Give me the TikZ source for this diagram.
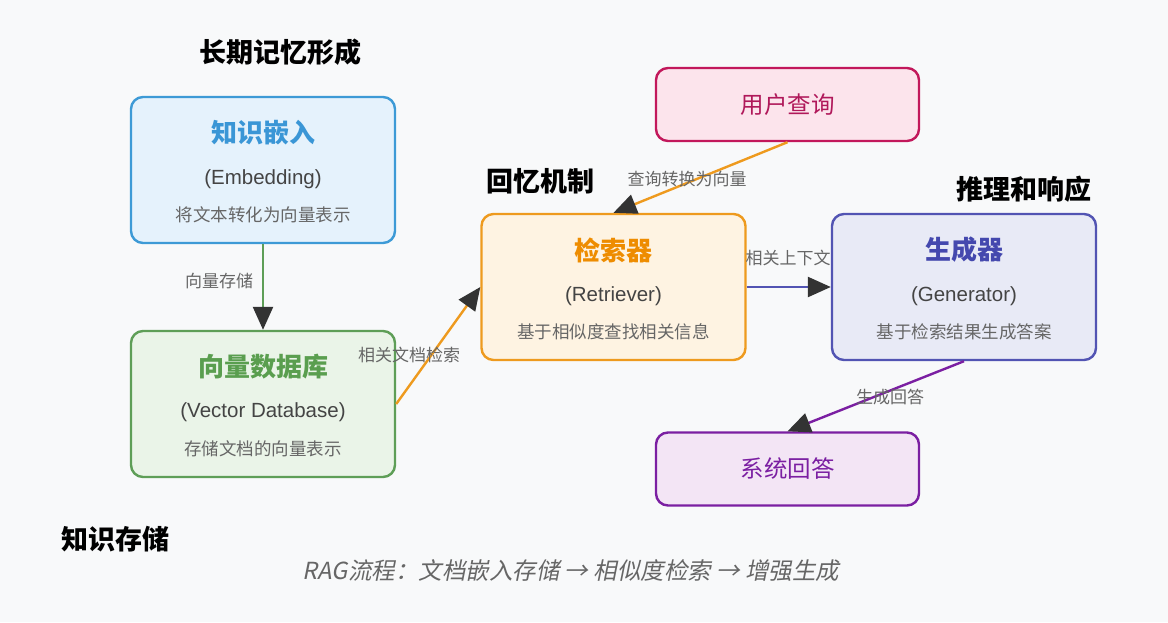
\documentclass[tikz,border=0pt]{standalone}
\usepackage{fontspec}
\setmainfont{Noto Sans CJK SC}[AutoFakeSlant=0.2]
\newfontfamily\latinsans{Liberation Sans}
\usetikzlibrary{arrows.meta}
\definecolor{bgc}{HTML}{F8F9FA}
\definecolor{tipc}{HTML}{333333}
\definecolor{blueS}{HTML}{3D9AD6}\definecolor{blueF}{HTML}{E5F2FC}\definecolor{blueT}{HTML}{3A96D6}
\definecolor{greenS}{HTML}{5E9E57}\definecolor{greenF}{HTML}{EAF4E8}\definecolor{greenT}{HTML}{5A9E4F}
\definecolor{orangeS}{HTML}{EE9A1E}\definecolor{orangeF}{HTML}{FEF3E2}\definecolor{orangeT}{HTML}{EE8C00}
\definecolor{indS}{HTML}{5254B3}\definecolor{indF}{HTML}{E8EAF6}\definecolor{indT}{HTML}{4448AE}
\definecolor{pinkS}{HTML}{C2185B}\definecolor{pinkF}{HTML}{FCE4EC}\definecolor{pinkT}{HTML}{B0185A}
\definecolor{purS}{HTML}{7B1FA2}\definecolor{purF}{HTML}{F3E5F5}\definecolor{purT}{HTML}{7B1FA2}
\definecolor{subc}{HTML}{444444}
\definecolor{descc}{HTML}{666666}
\definecolor{lblc}{HTML}{666666}
\tikzset{
  box/.style={draw, rounded corners=12pt, line width=2.4pt, minimum width=264pt, minimum height=146pt, inner sep=0pt},
  smallbox/.style={draw, rounded corners=12pt, line width=2.4pt, minimum width=263pt, minimum height=73pt, inner sep=0pt},
  ttl/.style={font=\fontsize{26}{30}\selectfont\bfseries},
  sub/.style={font=\latinsans\fontsize{20.5}{24}\selectfont, text=subc},
  desc/.style={font=\fontsize{17.5}{21}\selectfont, text=descc},
  sect/.style={font=\fontsize{27}{31}\selectfont\bfseries, text=black},
  lbl/.style={font=\fontsize{17}{20}\selectfont, text=lblc},
  conn/.style={line width=2.4pt, -{Triangle[length=23pt,width=20pt,color=tipc]}},
}
\begin{document}
\begin{tikzpicture}[x=1pt,y=-1pt]
\fill[bgc] (0,0) rectangle (1168,622);
\useasboundingbox (0,0) rectangle (1168,622);

% boxes
\node[box, draw=blueS, fill=blueF] (emb) at (263,170) {};
\node[ttl, text=blueT] (embT) at (263,133) {知识嵌入};
\node[sub] (embS) at (263,179) {(Embedding)};
\node[desc] (embD) at (263,215) {将文本转化为向量表示};

\node[box, draw=greenS, fill=greenF] (vdb) at (263,404) {};
\node[ttl, text=greenT] (vdbT) at (263,367) {向量数据库};
\node[sub] (vdbS) at (263,412) {(Vector Database)};
\node[desc] (vdbD) at (263,449) {存储文档的向量表示};

\node[box, draw=orangeS, fill=orangeF] (ret) at (613.5,287) {};
\node[ttl, text=orangeT] (retT) at (613.5,250) {检索器};
\node[sub] (retS) at (613.5,296) {(Retriever)};
\node[desc] (retD) at (613.5,332) {基于相似度查找相关信息};

\node[box, draw=indS, fill=indF] (gen) at (964,287) {};
\node[ttl, text=indT] (genT) at (964,250) {生成器};
\node[sub] (genS) at (964,296) {(Generator)};
\node[desc] (genD) at (964,332) {基于检索结果生成答案};

\node[smallbox, draw=pinkS, fill=pinkF, text=pinkT, font=\fontsize{23.5}{27}\selectfont] (usr) at (787.5,104.5) {用户查询};
\node[smallbox, draw=purS, fill=purF, text=purT, font=\fontsize{23.5}{27}\selectfont] (ans) at (787.5,469) {系统回答};

% section headings
\node[sect] (h1) at (280,52) {长期记忆形成};
\node[sect] (h2) at (540,181) {回忆机制};
\node[sect] (h3) at (1024,189) {推理和响应};
\node[sect] (h4) at (115,539) {知识存储};

% connectors
\draw[conn, greenS] (emb.south) -- (vdb.north);
\node[lbl] (l1) at (219,281) {向量存储};
\draw[conn, orangeS] (vdb.east) -- (ret.west);
\node[lbl] (l2) at (409,355) {相关文档检索};
\draw[conn, orangeS] (usr.south) -- (ret.north);
\node[lbl] (l3) at (687,179) {查询转换为向量};
\draw[conn, indS] (ret.east) -- (gen.west);
\node[lbl] (l4) at (788,258) {相关上下文};
\draw[conn, purS] (gen.south) -- (ans.north);
\node[lbl] (l5) at (890,397) {生成回答};

% footer
\node[font=\fontsize{23.5}{27}\selectfont\itshape, text=descc] (foot) at (571,571) {RAG流程：文档嵌入存储 → 相似度检索 → 增强生成};
\end{tikzpicture}
\end{document}
